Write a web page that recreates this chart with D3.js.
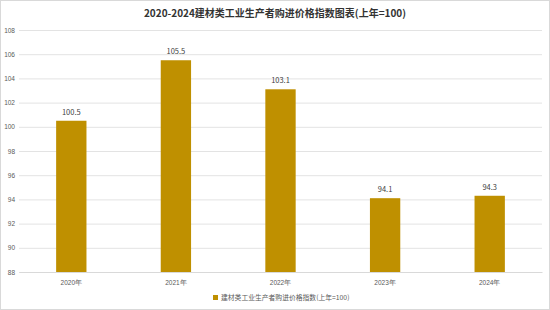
<!DOCTYPE html>
<html>
<head>
<meta charset="utf-8">
<script src="https://cdn.jsdelivr.net/npm/d3@7"></script>
<style>
  body { margin: 0; background: #fff; }
  svg { display: block; font-family: "Noto Sans CJK SC", "Liberation Sans", sans-serif; }
</style>
</head>
<body>
<svg id="chart"></svg>
<script>
// chart data
var years = ['2020年', '2021年', '2022年', '2023年', '2024年'];
var values = [100.5, 105.5, 103.1, 94.1, 94.3];
var yTicks = [88, 90, 92, 94, 96, 98, 100, 102, 104, 106, 108];
var title = '2020-2024建材类工业生产者购进价格指数图表(上年=100)';
var seriesName = '建材类工业生产者购进价格指数(上年=100)';

var width = 550;
var height = 310;
// plot edges (note: "top" is reserved on window, so prefix them)
var plotLeft = 19, plotRight = 542, plotTop = 30, plotBottom = 272;
var barColor = '#bf9000';

var svg = d3.select('#chart')
  .attr('width', width)
  .attr('height', height);

// outer frame
svg.append('rect')
  .attr('x', 0.5).attr('y', 0.5)
  .attr('width', width - 1).attr('height', height - 1)
  .attr('fill', '#fff')
  .attr('stroke', '#d9d9d9');

var x = d3.scaleBand()
  .domain(years)
  .range([plotLeft, plotRight])
  .paddingInner(0.71)
  .paddingOuter(0.355);

var y = d3.scaleLinear()
  .domain([88, 108])
  .range([plotBottom, plotTop]);

// gridlines + y labels
var yAxis = d3.axisLeft(y)
  .tickValues(yTicks)
  .tickSize(-(plotRight - plotLeft))
  .tickPadding(4);

svg.append('g')
  .attr('transform', 'translate(' + plotLeft + ',0)')
  .call(yAxis)
  .call(g => g.select('.domain').remove())
  .call(g => g.selectAll('line').attr('stroke', '#e3e3e3'))
  .call(g => g.selectAll('text')
    .attr('fill', '#595959')
    .style('font-size', '6.5px'));

// bars
svg.selectAll('rect.bar')
  .data(values)
  .enter()
  .append('rect')
    .attr('class', 'bar')
    .attr('x', (d, i) => x(years[i]))
    .attr('y', d => y(d))
    .attr('width', x.bandwidth())
    .attr('height', d => y(88) - y(d))
    .attr('fill', barColor);

// value labels
svg.selectAll('text.val')
  .data(values)
  .enter()
  .append('text')
    .attr('class', 'val')
    .attr('x', (d, i) => x(years[i]) + x.bandwidth() / 2)
    .attr('y', d => y(d) - 6)
    .attr('text-anchor', 'middle')
    .attr('fill', '#404040')
    .style('font-size', '7.5px')
    .text(d => d.toFixed(1));

// x labels
var xAxis = d3.axisBottom(x).tickSize(0).tickPadding(8);
svg.append('g')
  .attr('transform', 'translate(0,' + plotBottom + ')')
  .call(xAxis)
  .call(g => g.select('.domain').attr('stroke', '#d9d9d9'))
  .call(g => g.selectAll('text')
    .attr('fill', '#595959')
    .style('font-size', '6.5px'));

// title
svg.append('text')
  .attr('x', 275)
  .attr('y', 17)
  .attr('text-anchor', 'middle')
  .attr('fill', '#333')
  .style('font-size', '10px')
  .style('font-weight', 'bold')
  .text(title);

// legend
var legend = svg.append('g').attr('transform', 'translate(213,300)');
legend.append('rect')
  .attr('x', 0).attr('y', -5)
  .attr('width', 5).attr('height', 5)
  .attr('fill', barColor);
legend.append('text')
  .attr('x', 8).attr('y', 0)
  .attr('fill', '#595959')
  .style('font-size', '6.8px')
  .text(seriesName);
</script>
</body>
</html>
